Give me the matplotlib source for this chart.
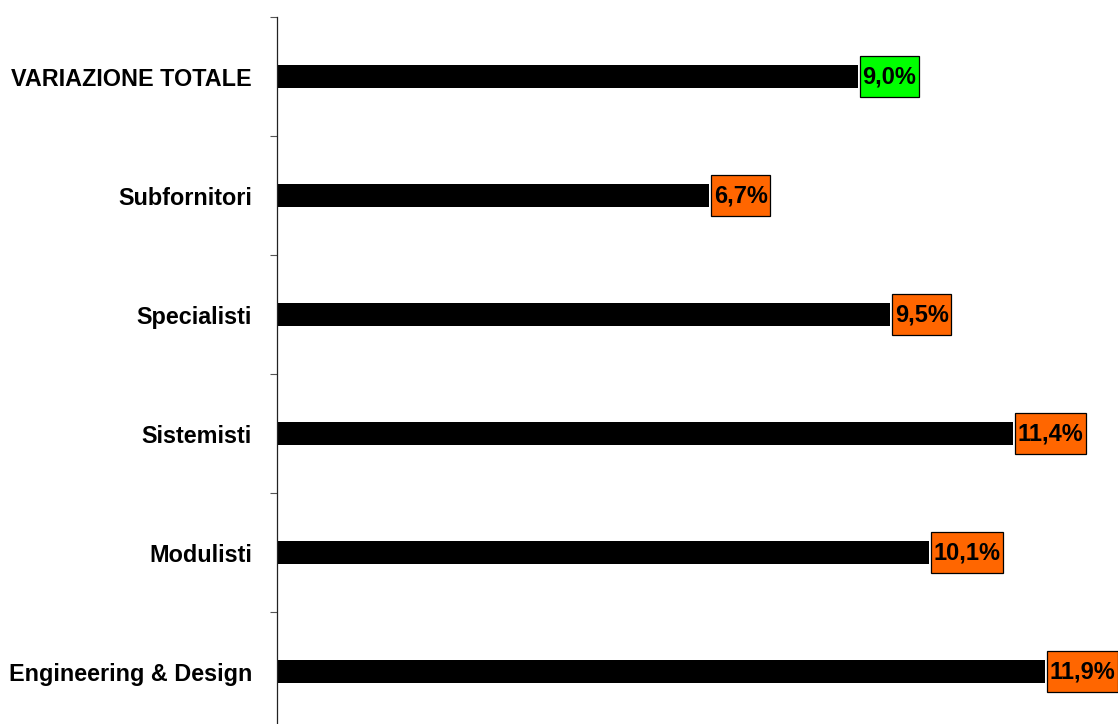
import matplotlib.pyplot as plt
from matplotlib.patches import Rectangle
from matplotlib.transforms import IdentityTransform
import numpy as np

plt.rcParams['font.family'] = ['Liberation Sans', 'DejaVu Sans']

# categorie dall'alto verso il basso
categorie = ['VARIAZIONE TOTALE', 'Subfornitori', 'Specialisti',
             'Sistemisti', 'Modulisti', 'Engineering & Design']
variazioni = [9.0, 6.7, 9.5, 11.4, 10.1, 11.9]
colori_box = ['#00FF00', '#FF6600', '#FF6600', '#FF6600', '#FF6600', '#FF6600']

fig = plt.figure(figsize=(11.18, 7.24), dpi=100)
ax = fig.add_axes([0.2478, -0.0097, 0.7522, 0.9862])

y = np.arange(len(categorie))
ax.barh(y, variazioni, height=0.193, color='black', zorder=2)

# padding del riquadro (pixel): stretto ai lati, più alto sopra/sotto
pad_x, pad_y = 2.5, 9
testi = []
for yi, v in zip(y, variazioni):
    etichetta = f'{v:.1f}%'.replace('.', ',')
    t = ax.annotate(etichetta, xy=(v, yi), xytext=((2 + pad_x) * 0.72, 0), textcoords='offset points',
                    ha='left', va='center', fontsize=17, fontweight='bold', color='black',
                    annotation_clip=False, zorder=4)
    testi.append(t)

ax.set_xlim(0, 13.03)
ax.set_ylim(len(categorie) - 0.5, -0.5)

# etichette al centro delle barre, tacche ai confini delle categorie
ax.set_yticks(y)
ax.set_yticklabels(categorie, fontsize=16.8, fontweight='bold')
ax.set_yticks(np.arange(-0.5, len(categorie)), minor=True)
ax.tick_params(axis='y', which='major', length=0, pad=18)
ax.tick_params(axis='y', which='minor', length=5, width=0.8, color='#555555', direction='out')
ax.set_xticks([])

for s in ['top', 'right', 'bottom']:
    ax.spines[s].set_visible(False)
ax.spines['left'].set_linewidth(0.9)
ax.spines['left'].set_color('#222222')

# riquadri colorati dietro le percentuali
fig.canvas.draw()
for t, c in zip(testi, colori_box):
    bb = t.get_window_extent()
    box = Rectangle((bb.x0 - pad_x, bb.y0 - pad_y), bb.width + 2 * pad_x, bb.height + 2 * pad_y,
                    facecolor=c, edgecolor='black', linewidth=0.9,
                    transform=IdentityTransform(), clip_on=False, zorder=3)
    ax.add_artist(box)

fig.savefig('out.png', dpi=100)
